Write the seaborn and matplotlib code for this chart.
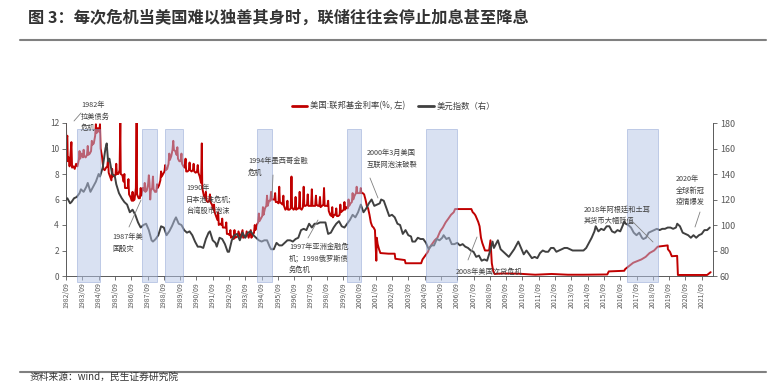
import pandas as pd
import seaborn as sns
import matplotlib.pyplot as plt
from matplotlib.lines import Line2D

# 美国:联邦基金利率(%, 左)
fed_dates = [
    "1982-09-01", "1982-09-08", "1982-09-20", "1982-10-01", "1982-10-10", "1982-11-01", "1982-11-20",
    "1982-12-01", "1982-12-31", "1983-01-15", "1983-02-15", "1983-03-15", "1983-04-15", "1983-05-15",
    "1983-06-15", "1983-07-01", "1983-07-15", "1983-08-15", "1983-09-15", "1983-10-01", "1983-10-15",
    "1983-11-15", "1983-12-15", "1984-01-01", "1984-01-15", "1984-02-15", "1984-03-15", "1984-04-01",
    "1984-04-15", "1984-05-15", "1984-06-15", "1984-07-01", "1984-07-15", "1984-08-15", "1984-09-15",
    "1984-10-01", "1984-10-15", "1984-11-15", "1984-12-15", "1985-01-15", "1985-02-15", "1985-03-15",
    "1985-04-01", "1985-04-15", "1985-05-15", "1985-06-15", "1985-07-01", "1985-07-15", "1985-08-15",
    "1985-09-15", "1985-10-01", "1985-10-15", "1985-11-15", "1985-12-15", "1985-12-31", "1986-01-10",
    "1986-02-15", "1986-03-15", "1986-04-01", "1986-04-15", "1986-05-15", "1986-06-15", "1986-07-01",
    "1986-07-15", "1986-08-15", "1986-09-15", "1986-10-01", "1986-10-15", "1986-11-15", "1986-12-15",
    "1986-12-31", "1987-01-10", "1987-02-15", "1987-03-15", "1987-04-01", "1987-04-15", "1987-05-15",
    "1987-06-15", "1987-07-01", "1987-07-15", "1987-08-15", "1987-09-15", "1987-10-01", "1987-10-15",
    "1987-11-01", "1987-11-15", "1987-12-15", "1988-01-01", "1988-01-15", "1988-02-15", "1988-03-15",
    "1988-04-01", "1988-04-15", "1988-05-15", "1988-06-15", "1988-07-01", "1988-07-15", "1988-08-15",
    "1988-09-15", "1988-10-01", "1988-10-15", "1988-11-15", "1988-12-15", "1989-01-01", "1989-01-15",
    "1989-02-15", "1989-03-15", "1989-04-01", "1989-04-15", "1989-05-15", "1989-06-15", "1989-07-01",
    "1989-07-15", "1989-08-15", "1989-09-15", "1989-10-01", "1989-10-15", "1989-11-15", "1989-12-15",
    "1990-01-01", "1990-01-15", "1990-02-15", "1990-03-15", "1990-04-01", "1990-04-15", "1990-05-15",
    "1990-06-15", "1990-07-01", "1990-07-15", "1990-08-15", "1990-09-15", "1990-10-01", "1990-10-15",
    "1990-11-15", "1990-12-15", "1990-12-31", "1991-01-10", "1991-02-15", "1991-03-15", "1991-04-01",
    "1991-04-15", "1991-05-15", "1991-06-15", "1991-07-01", "1991-07-15", "1991-08-15", "1991-09-15",
    "1991-10-01", "1991-10-15", "1991-11-15", "1991-12-15", "1992-01-01", "1992-01-15", "1992-02-15",
    "1992-03-15", "1992-04-01", "1992-04-15", "1992-05-15", "1992-06-15", "1992-07-01", "1992-07-15",
    "1992-08-15", "1992-09-15", "1992-10-01", "1992-10-15", "1992-11-15", "1992-12-15", "1993-01-01",
    "1993-01-15", "1993-03-15", "1993-04-01", "1993-05-15", "1993-07-01", "1993-07-15", "1993-09-15",
    "1993-10-01", "1993-11-15", "1994-01-01", "1994-01-15", "1994-02-15", "1994-03-15", "1994-04-01",
    "1994-04-15", "1994-05-15", "1994-06-15", "1994-07-01", "1994-07-15", "1994-08-15", "1994-09-15",
    "1994-10-01", "1994-10-15", "1994-11-15", "1994-12-15", "1995-01-01", "1995-01-15", "1995-02-15",
    "1995-03-15", "1995-04-01", "1995-04-15", "1995-05-15", "1995-06-15", "1995-07-01", "1995-07-15",
    "1995-08-15", "1995-09-15", "1995-10-01", "1995-10-15", "1995-11-15", "1995-12-15", "1996-01-01",
    "1996-01-15", "1996-02-15", "1996-03-15", "1996-04-01", "1996-04-15", "1996-05-15", "1996-06-15",
    "1996-07-01", "1996-07-15", "1996-08-15", "1996-09-15", "1996-10-01", "1996-10-15", "1996-11-15",
    "1996-12-15", "1997-01-01", "1997-01-15", "1997-02-15", "1997-03-15", "1997-04-01", "1997-04-15",
    "1997-05-15", "1997-06-15", "1997-07-01", "1997-07-15", "1997-08-15", "1997-09-15", "1997-10-01",
    "1997-10-15", "1997-11-15", "1997-12-15", "1998-01-01", "1998-01-15", "1998-02-15", "1998-03-15",
    "1998-04-01", "1998-04-15", "1998-05-15", "1998-06-15", "1998-07-01", "1998-07-15", "1998-08-15",
    "1998-09-15", "1998-10-01", "1998-10-15", "1998-11-15", "1998-12-15", "1999-01-01", "1999-01-15",
    "1999-02-15", "1999-03-15", "1999-04-01", "1999-04-15", "1999-05-15", "1999-06-15", "1999-07-01",
    "1999-07-15", "1999-08-15", "1999-09-15", "1999-10-01", "1999-10-15", "1999-11-15", "1999-12-15",
    "2000-01-01", "2000-01-15", "2000-02-15", "2000-03-15", "2000-04-01", "2000-04-15", "2000-05-15",
    "2000-06-15", "2000-07-01", "2000-07-15", "2000-08-15", "2000-09-15", "2000-10-01", "2000-10-15",
    "2000-11-15", "2000-12-15", "2001-01-15", "2001-02-15", "2001-03-15", "2001-04-15", "2001-05-15",
    "2001-06-15", "2001-07-15", "2001-08-15", "2001-09-15", "2001-09-25", "2001-10-15", "2001-11-15",
    "2001-12-15", "2002-06-15", "2002-10-31", "2002-11-15", "2003-06-15", "2003-07-01", "2004-06-15",
    "2004-07-15", "2004-09-15", "2004-11-15", "2004-12-15", "2005-02-15", "2005-04-15", "2005-06-15",
    "2005-08-15", "2005-10-15", "2005-12-15", "2006-02-15", "2006-04-15", "2006-06-15", "2006-07-15",
    "2007-07-15", "2007-08-15", "2007-09-15", "2007-10-15", "2007-11-15", "2007-12-15", "2008-01-15",
    "2008-02-15", "2008-03-15", "2008-04-15", "2008-05-15", "2008-08-15", "2008-09-15", "2008-10-15",
    "2008-11-15", "2008-12-15", "2009-06-15", "2010-06-15", "2011-06-15", "2012-06-15", "2013-06-15",
    "2014-06-15", "2015-11-15", "2015-12-20", "2016-11-30", "2016-12-20", "2017-03-20", "2017-06-20",
    "2017-12-20", "2018-03-25", "2018-06-20", "2018-09-30", "2018-12-20", "2019-07-31", "2019-08-05",
    "2019-09-20", "2019-10-31", "2020-02-28", "2020-03-05", "2020-03-16", "2021-12-31", "2022-03-20",
]
fed_rate = [
    11.9, 9.5, 10.8, 11.0, 9.0, 9.3, 8.6,
    9.0, 10.5, 8.5, 8.6, 8.4, 8.8, 8.6,
    9.1, 9.8, 9.2, 9.6, 9.3, 9.9, 9.4,
    9.3, 9.5, 10.2, 9.5, 9.6, 9.8, 10.6,
    10.3, 10.4, 11.0, 11.9, 11.2, 11.6, 11.3,
    11.9, 10.0, 9.4, 8.4, 8.3, 8.5, 8.6,
    9.2, 8.1, 7.8, 7.5, 8.4, 7.8, 7.9,
    7.9, 8.8, 8.0, 8.0, 8.3, 12.0, 8.0,
    7.9, 7.4, 8.0, 6.9, 6.9, 6.9, 7.6,
    6.4, 6.2, 5.9, 6.6, 5.9, 6.0, 6.9,
    12.0, 6.4, 6.1, 6.1, 6.9, 6.3, 6.9,
    6.7, 7.3, 6.6, 6.7, 7.2, 7.9, 7.3,
    6.0, 6.7, 6.9, 7.8, 6.8, 6.6, 6.6,
    7.2, 6.9, 7.1, 7.5, 8.2, 7.8, 8.0,
    8.2, 8.7, 8.3, 8.4, 8.8, 9.6, 9.1,
    9.4, 9.9, 10.6, 9.9, 9.8, 9.5, 10.1,
    9.2, 9.0, 9.0, 9.6, 8.8, 8.6, 8.5,
    9.2, 8.2, 8.2, 8.3, 8.9, 8.3, 8.2,
    8.3, 8.8, 8.2, 8.1, 8.2, 8.7, 8.1,
    7.8, 7.3, 10.4, 6.9, 6.3, 6.1, 6.6,
    5.9, 5.8, 5.9, 6.4, 5.8, 5.6, 5.2,
    5.6, 5.0, 4.7, 4.4, 5.0, 4.0, 4.1,
    4.0, 4.5, 3.8, 3.8, 3.8, 4.2, 3.3,
    3.3, 3.2, 3.6, 3.0, 3.1, 2.9, 3.6,
    3.0, 3.1, 3.5, 3.0, 3.6, 3.0, 3.1,
    3.5, 3.0, 3.6, 3.0, 3.2, 3.4, 4.0,
    3.6, 4.0, 4.2, 4.9, 4.3, 4.5, 4.7,
    5.4, 4.8, 5.3, 5.5, 6.3, 5.5, 5.9,
    5.9, 6.6, 6.0, 6.0, 6.0, 6.5, 5.8,
    5.8, 5.7, 7.0, 5.8, 5.7, 5.6, 6.3,
    5.5, 5.2, 5.3, 5.9, 5.2, 5.2, 5.3,
    7.8, 5.4, 5.2, 5.3, 6.2, 5.2, 5.3,
    5.3, 6.6, 5.3, 5.2, 5.4, 7.0, 5.5,
    5.5, 5.6, 6.4, 5.5, 5.5, 5.5, 6.8,
    5.5, 5.5, 5.5, 6.3, 5.6, 5.5, 5.5,
    6.2, 5.4, 5.5, 5.6, 6.9, 5.5, 5.5,
    5.5, 5.9, 5.1, 4.8, 4.7, 5.4, 4.6,
    4.8, 4.8, 5.3, 4.7, 4.7, 4.8, 5.6,
    5.0, 5.1, 5.2, 5.8, 5.2, 5.4, 5.3,
    6.0, 5.5, 5.7, 5.8, 6.5, 6.0, 6.3,
    6.5, 7.0, 6.5, 6.5, 6.5, 6.9, 6.5,
    6.5, 6.4, 6.0, 5.5, 5.3, 4.8, 4.2,
    3.9, 3.8, 3.6, 1.2, 3.0, 2.5, 2.1,
    1.8, 1.75, 1.75, 1.35, 1.25, 1.0, 1.0,
    1.3, 1.6, 1.9, 2.2, 2.5, 2.8, 3.0,
    3.5, 3.8, 4.2, 4.5, 4.8, 5.0, 5.25,
    5.25, 5.0, 4.9, 4.75, 4.5, 4.25, 3.9,
    3.0, 2.6, 2.3, 2.0, 2.0, 2.8, 1.0,
    0.4, 0.16, 0.2, 0.18, 0.1, 0.16, 0.1,
    0.1, 0.12, 0.36, 0.41, 0.54, 0.79, 1.04,
    1.3, 1.5, 1.8, 2.0, 2.3, 2.4, 2.1,
    1.9, 1.55, 1.58, 1.1, 0.08, 0.08, 0.3,
]

# 美元指数(右)
dxy_dates = [
    "1982-09", "1982-10", "1982-11", "1982-12", "1983-01", "1983-03", "1983-05", "1983-07", "1983-08",
    "1983-09", "1983-10", "1983-12", "1984-01", "1984-03", "1984-05", "1984-07", "1984-09", "1984-10",
    "1984-12", "1985-02", "1985-03", "1985-04", "1985-05", "1985-07", "1985-09", "1985-10", "1985-12",
    "1986-02", "1986-04", "1986-06", "1986-08", "1986-10", "1986-12", "1987-02", "1987-04", "1987-06",
    "1987-08", "1987-10", "1987-12", "1988-01", "1988-03", "1988-05", "1988-07", "1988-09", "1988-11",
    "1989-01", "1989-03", "1989-05", "1989-06", "1989-08", "1989-10", "1989-12", "1990-02", "1990-04",
    "1990-06", "1990-08", "1990-10", "1990-12", "1991-02", "1991-04", "1991-06", "1991-07", "1991-09",
    "1991-11", "1991-12", "1992-02", "1992-04", "1992-06", "1992-08", "1992-09", "1992-11", "1993-01",
    "1993-03", "1993-05", "1993-07", "1993-09", "1993-11", "1994-01", "1994-03", "1994-05", "1994-07",
    "1994-09", "1994-11", "1995-01", "1995-03", "1995-04", "1995-06", "1995-08", "1995-10", "1995-12",
    "1996-02", "1996-04", "1996-06", "1996-08", "1996-10", "1996-12", "1997-02", "1997-04", "1997-06",
    "1997-08", "1997-10", "1997-12", "1998-02", "1998-04", "1998-06", "1998-08", "1998-10", "1998-12",
    "1999-02", "1999-04", "1999-06", "1999-08", "1999-10", "1999-12", "2000-02", "2000-04", "2000-06",
    "2000-08", "2000-10", "2000-12", "2001-02", "2001-04", "2001-06", "2001-08", "2001-10", "2001-12",
    "2002-01", "2002-03", "2002-05", "2002-07", "2002-09", "2002-11", "2003-01", "2003-03", "2003-05",
    "2003-07", "2003-09", "2003-11", "2003-12", "2004-02", "2004-04", "2004-06", "2004-08", "2004-10",
    "2004-12", "2005-02", "2005-04", "2005-06", "2005-08", "2005-10", "2005-11", "2006-01", "2006-03",
    "2006-05", "2006-07", "2006-09", "2006-11", "2007-01", "2007-03", "2007-05", "2007-07", "2007-09",
    "2007-11", "2008-01", "2008-03", "2008-05", "2008-07", "2008-09", "2008-11", "2008-12", "2009-03",
    "2009-05", "2009-07", "2009-09", "2009-11", "2010-01", "2010-03", "2010-06", "2010-08", "2010-10",
    "2010-12", "2011-02", "2011-04", "2011-06", "2011-08", "2011-10", "2011-12", "2012-02", "2012-04",
    "2012-06", "2012-08", "2012-10", "2012-12", "2013-02", "2013-04", "2013-06", "2013-08", "2013-10",
    "2013-12", "2014-02", "2014-04", "2014-06", "2014-08", "2014-10", "2014-12", "2015-02", "2015-03",
    "2015-05", "2015-07", "2015-09", "2015-11", "2016-01", "2016-03", "2016-05", "2016-07", "2016-09",
    "2016-11", "2016-12", "2017-01", "2017-03", "2017-05", "2017-07", "2017-09", "2017-11", "2018-01",
    "2018-02", "2018-04", "2018-06", "2018-08", "2018-10", "2018-12", "2019-02", "2019-04", "2019-06",
    "2019-08", "2019-10", "2019-12", "2020-02", "2020-03", "2020-05", "2020-07", "2020-09", "2020-11",
    "2021-01", "2021-03", "2021-05", "2021-07", "2021-09", "2021-11", "2022-01", "2022-03",
]
dxy_value = [
    120, 121, 119, 117, 118, 121, 122, 125, 128,
    127, 126, 130, 133, 126, 130, 134, 140, 138,
    145, 160, 164, 150, 152, 140, 138, 132, 125,
    121, 118, 116, 110, 112, 108, 102, 98, 100,
    101, 96, 88, 87, 89, 92, 99, 98, 92,
    95, 99, 104, 106, 101, 100, 96, 94, 95,
    92, 87, 83, 83, 82, 89, 94, 95, 88,
    86, 83, 90, 89, 85, 79, 79, 88, 92,
    93, 88, 94, 90, 94, 95, 92, 90, 88,
    87, 88, 88, 83, 81, 81, 86, 84, 84,
    86, 88, 88, 87, 89, 90, 96, 97, 96,
    101, 98, 101, 101, 102, 102, 102, 93, 94,
    98, 101, 103, 99, 98, 101, 104, 108, 106,
    110, 116, 110, 113, 117, 120, 115, 116, 117,
    120, 119, 113, 107, 108, 106, 101, 100, 93,
    96, 92, 91, 87, 87, 90, 89, 89, 86,
    81, 84, 84, 89, 88, 90, 92, 89, 90,
    85, 85, 86, 84, 85, 83, 82, 80, 79,
    75, 76, 72, 73, 72, 79, 87, 82, 88,
    81, 79, 77, 75, 78, 81, 87, 82, 77,
    80, 77, 74, 75, 74, 78, 80, 79, 79,
    82, 82, 79, 80, 81, 82, 82, 81, 80,
    80, 80, 80, 80, 82, 86, 90, 95, 99,
    95, 97, 96, 99, 99, 95, 94, 96, 95,
    100, 103, 101, 100, 98, 94, 92, 94, 90,
    89, 90, 94, 95, 96, 97, 96, 97, 97,
    98, 98, 97, 98, 101, 99, 94, 93, 92,
    90, 92, 90, 92, 93, 96, 96, 98,
]

# 危机区间(阴影)
crisis_start = ["1983-05", "1987-05", "1988-10", "1994-06", "1999-12", "2004-10", "2017-02"]
crisis_end = ["1984-10", "1988-04", "1989-11", "1995-05", "2000-10", "2006-09", "2019-01"]

tick_years = list(range(1982, 2022))

crisis_notes = [
    "1982年\n拉美债务\n危机",
    "1987年美\n国股灾",
    "1990年\n日本泡沫危机;\n台湾股市泡沫",
    "1994年墨西哥金融\n危机",
    "1997年亚洲金融危\n机；1998俄罗斯债\n务危机",
    "2000年3月美国\n互联网泡沫破裂",
    "2008年美国次贷危机",
    "2018年阿根廷和土耳\n其货币大幅贬值",
    "2020年\n全球新冠\n疫情爆发",
]


def to_year(s):
    ts = pd.Timestamp(s)
    return ts.year + (ts.dayofyear - 1) / 365.25


fed = pd.DataFrame({"x": [to_year(d) for d in fed_dates], "rate": fed_rate})
dxy = pd.DataFrame({"x": [to_year(d) for d in dxy_dates], "index": dxy_value})

W, H = 779, 383
sns.set_style("ticks")
plt.rcParams['font.family'] = ['Noto Sans CJK SC', 'DejaVu Sans']

fig = plt.figure(figsize=(W / 100, H / 100), dpi=100)
ax = fig.add_axes([66 / W, 1 - 276 / H, (713 - 66) / W, (276 - 123) / H])
ax2 = ax.twinx()

red = "#C00000"
grey = "#404040"
sns.lineplot(data=fed, x="x", y="rate", ax=ax, color=red, lw=1.4, errorbar=None, legend=False)
sns.lineplot(data=dxy, x="x", y="index", ax=ax2, color=grey, lw=1.4, errorbar=None, legend=False)

for s, e in zip(crisis_start, crisis_end):
    ax2.axvspan(to_year(s), to_year(e), ymin=-0.036, ymax=0.96, facecolor="#B5C5E7",
                edgecolor="#7F97CF", lw=0.6, alpha=0.5, clip_on=False, zorder=5)

x0 = to_year("1982-09")
ax.set_xlim(x0, x0 + 647 / 16.3)
ax.set_ylim(0, 12)
ax2.set_ylim(60, 180)
ax.set_yticks(range(0, 13, 2))
ax2.set_yticks(range(60, 181, 20))
ax.set_xticks([to_year(f"{y}-09") for y in tick_years])
ax.set_xticklabels([f"{y}/09" for y in tick_years], rotation=90)
ax.set_xlabel("")
ax.set_ylabel("")
ax2.set_ylabel("")

for a in (ax, ax2):
    for sp in a.spines.values():
        sp.set_color("#595959")
        sp.set_linewidth(0.7)
    a.spines["top"].set_visible(False)
ax.spines["right"].set_visible(False)
ax2.spines["left"].set_visible(False)
ax2.spines["bottom"].set_visible(False)
ax.tick_params(axis="y", length=3, width=0.6, pad=2, labelsize=6, labelcolor="#595959", color="#595959")
ax.tick_params(axis="x", length=3, width=0.6, pad=1.5, labelsize=5, labelcolor="#595959", color="#595959")
ax2.tick_params(axis="y", length=3, width=0.6, pad=2, labelsize=6.5, labelcolor="#595959", color="#595959")

handles = [Line2D([], [], color=red, lw=2), Line2D([], [], color=grey, lw=2)]
fig.legend(handles, ["美国:联邦基金利率(%, 左)", "美元指数（右）"], loc="center left",
           bbox_to_anchor=(284 / W, 1 - 106 / H), ncol=2, frameon=False, fontsize=6,
           handlelength=1.9, handletextpad=0.3, columnspacing=1.6, labelcolor="#404040")

# 标注文字位置(像素)
note_pos = [(81, 116.7), (112, 243), (186, 199.5), (248, 166.8), (289, 258.3),
            (367, 158.8), (456, 271.7), (584, 215.5), (676, 190.7)]
for txt, (px, py) in zip(crisis_notes, note_pos):
    fig.text(px / W, 1 - py / H, txt, ha="left", va="center", fontsize=5.2,
             linespacing=1.55, color="#404040", zorder=6)

leaders = [((74, 121), (81, 113)), ((129, 227), (141, 200)), ((273, 175), (272, 197)),
           ((308, 238), (318, 220)), ((370, 178), (378, 198)), ((468, 260), (477, 237)),
           ((633, 222), (653, 242)), ((700, 212), (695, 227))]
for (ax_, ay_), (bx_, by_) in leaders:
    fig.add_artist(Line2D([ax_ / W, bx_ / W], [1 - ay_ / H, 1 - by_ / H], color="#808080", lw=0.6, zorder=6))

fig.text(28 / W, 1 - 18 / H, "图 3：每次危机当美国难以独善其身时，联储往往会停止加息甚至降息",
         ha="left", va="center", fontsize=11.7, fontweight="bold", color="#333333")
fig.add_artist(Line2D([20 / W, 766 / W], [1 - 40 / H] * 2, color="#808080", lw=1.5))
fig.add_artist(Line2D([20 / W, 766 / W], [1 - 372 / H] * 2, color="#808080", lw=1.5))
fig.text(30 / W, 1.5 / H, "资料来源：wind，民生证券研究院", ha="left", va="bottom",
         fontsize=7, color="#333333")

fig.savefig("out.png", dpi=100)
